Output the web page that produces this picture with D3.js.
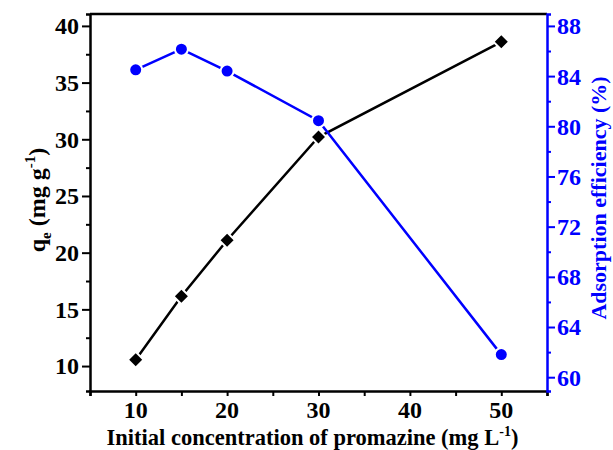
<!DOCTYPE html>
<html><head><meta charset="utf-8">
<script src="https://cdn.jsdelivr.net/npm/d3@7/dist/d3.min.js"></script>
<style>body{margin:0;background:#fff}svg{display:block}text{font-family:"Liberation Serif","Times New Roman",serif;font-weight:bold}</style>
</head><body><svg id="c" width="613" height="450"></svg>
<script>
const concentration = [10, 15, 20, 30, 50];
const qe = [10.55, 16.15, 21.1, 30.2, 38.6];
const efficiency = [84.5, 86.15, 84.4, 80.45, 61.8];
const xTicks = [10, 20, 30, 40, 50];
const leftTicks = [10, 15, 20, 25, 30, 35, 40];
const rightTicks = [60, 64, 68, 72, 76, 80, 84, 88];

const L = 90, R = 547, T = 14, B = 391;
const svg = d3.select("#c");
const x = d3.scaleLinear().domain([5, 55]).range([L, R]);
const yL = d3.scaleLinear().domain([7.8, 41.05]).range([B, T]);
const yR = d3.scaleLinear().domain([58.9, 88.95]).range([B, T]);
const blue = "#0000ff";

// frame top
svg.append("line").attr("x1", L).attr("x2", R).attr("y1", T).attr("y2", T).attr("stroke", "#000").attr("stroke-width", 2.5);

// bottom axis
const gx = svg.append("g").attr("transform", `translate(0,${B})`);
gx.call(d3.axisBottom(x).tickValues(d3.range(5, 56, 5)).tickSize(5).tickFormat(""));
gx.call(g => g.select(".domain").attr("stroke-width", 2.5));
gx.selectAll(".tick line").attr("stroke-width", 2);
gx.selectAll(".lbl").data(xTicks).join("text").attr("class", "lbl")
  .attr("x", d => x(d)).attr("y", 27).attr("text-anchor", "middle")
  .attr("font-size", 24).attr("fill", "#000").text(d => d);

// left axis
const gl = svg.append("g").attr("transform", `translate(${L},0)`);
gl.call(d3.axisLeft(yL).tickValues(d3.range(10, 40.1, 2.5)).tickSize(4).tickFormat(""));
gl.selectAll(".tick line").attr("stroke-width", 2).attr("x2", d => (d % 5 === 0 ? -8 : -4));
gl.select(".domain").attr("stroke-width", 2.5);
gl.selectAll(".lbl").data(leftTicks).join("text").attr("class", "lbl")
  .attr("x", -11).attr("y", d => yL(d)).attr("dy", "0.35em").attr("text-anchor", "end")
  .attr("font-size", 24).attr("fill", "#000").text(d => d);

// right axis
const gr = svg.append("g").attr("transform", `translate(${R},0)`);
gr.call(d3.axisRight(yR).tickValues(d3.range(60, 88.1, 2)).tickSize(4).tickFormat(""));
gr.selectAll(".tick line").attr("stroke", blue).attr("stroke-width", 2).attr("x2", d => (d % 4 === 0 ? 8 : 4));
gr.select(".domain").attr("stroke", blue).attr("stroke-width", 2.5);
gr.selectAll(".lbl").data(rightTicks).join("text").attr("class", "lbl")
  .attr("x", 10).attr("y", d => yR(d)).attr("dy", "0.35em").attr("text-anchor", "start")
  .attr("font-size", 24).attr("fill", blue).text(d => d);

// lines
const qeData = concentration.map((c, i) => [c, qe[i]]);
const effData = concentration.map((c, i) => [c, efficiency[i]]);
svg.append("path").datum(qeData).attr("fill", "none").attr("stroke", "#000").attr("stroke-width", 2.5)
  .attr("d", d3.line().x(d => x(d[0])).y(d => yL(d[1])));
svg.append("path").datum(effData).attr("fill", "none").attr("stroke", blue).attr("stroke-width", 2.5)
  .attr("d", d3.line().x(d => x(d[0])).y(d => yR(d[1])));

// markers
svg.selectAll(".circ").data(effData).join("circle").attr("class", "circ")
  .attr("cx", d => x(d[0])).attr("cy", d => yR(d[1])).attr("r", 6.5)
  .attr("fill", blue).attr("stroke", "#fff").attr("stroke-width", 2);
const diamond = d3.symbol().type(d3.symbolSquare).size(125);
svg.selectAll(".dia").data(qeData).join("path").attr("class", "dia")
  .attr("d", diamond)
  .attr("transform", d => `translate(${x(d[0])},${yL(d[1])}) rotate(45)`)
  .attr("fill", "#000").attr("stroke", "#fff").attr("stroke-width", 2);

// titles
svg.append("text").attr("x", (L + R) / 2 - 6).attr("y", 445).attr("text-anchor", "middle")
  .attr("font-size", 22.5).attr("fill", "#000")
  .html('Initial concentration of promazine (mg L<tspan dy="-9" font-size="14">-1</tspan><tspan dy="9">)</tspan>');
svg.append("text").attr("transform", "translate(45,200) rotate(-90)").attr("text-anchor", "middle")
  .attr("font-size", 24).attr("fill", "#000")
  .html('q<tspan dy="6" font-size="15">e</tspan><tspan dy="-6"> (mg g</tspan><tspan dy="-10" font-size="15">-1</tspan><tspan dy="10">)</tspan>');
svg.append("text").attr("transform", "translate(606,198) rotate(-90)").attr("text-anchor", "middle")
  .attr("font-size", 22).attr("fill", blue).text("Adsorption efficiency (%)");
</script></body></html>
